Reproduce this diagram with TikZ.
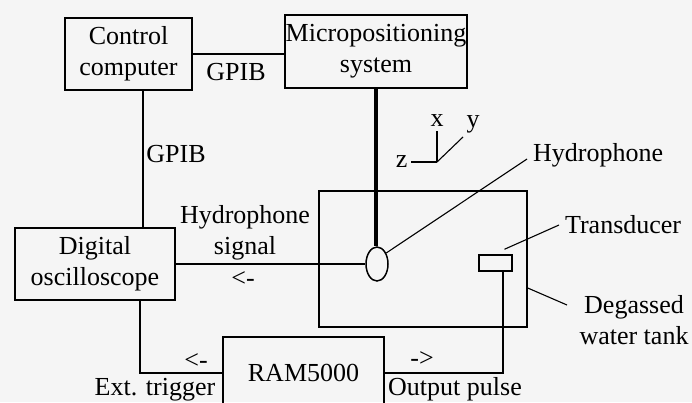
\documentclass[tikz,border=0pt]{standalone}
\usepackage{fontspec}
\setmainfont{Liberation Serif}
\usetikzlibrary{shapes.geometric}
\begin{document}
\begin{tikzpicture}[x=1pt, y=-1pt, line width=1.5pt,
  every node/.style={font=\fontsize{26}{31}\selectfont},
  unit/.style={draw, inner sep=0pt, align=center},
  lead/.style={line width=1.1pt}]
  \fill[black!4] (0,0) rectangle (692,402);
  \useasboundingbox (0,0) rectangle (692,402);
  % boxes
  \node[unit, minimum width=127pt, minimum height=72pt] (ctrl) at (128.5,54) {Control\\computer};
  \node[unit, minimum width=182pt, minimum height=73pt] (micro) at (376,51.5) {Micropositioning\\system};
  \node[unit, minimum width=160pt, minimum height=72pt] (osc) at (95,264) {Digital\\oscilloscope};
  \node[unit, minimum width=161pt, minimum height=72pt] (ram) at (303.5,373) {RAM5000};
  \node[draw, inner sep=0pt, minimum width=208pt, minimum height=136pt] (tank) at (423,259) {};
  \node[draw, ellipse, inner sep=0pt, minimum width=22pt, minimum height=34pt] (hyd) at (377,264) {};
  \node[draw, inner sep=0pt, minimum width=33pt, minimum height=16pt] (trans) at (495.5,263) {};
  % connections
  \draw (ctrl.east) -- (ctrl.east -| micro.west);
  \node (gpib1) at (236,72) {GPIB};
  \draw ([xshift=14.5pt]ctrl.south) -- ([xshift=14.5pt]ctrl.south |- osc.north);
  \node (gpib2) at (176,154) {GPIB};
  \draw[line width=4pt] (micro.south) -- (micro.south |- hyd.north);
  \draw (osc.east) -- (hyd.west);
  \node[align=center] (hsig) at (245,233) {Hydrophone\\signal};
  \node (hsigdir) at (243,279) {<-};
  \draw ([xshift=45pt]osc.south) |- (ram.west);
  \node (trigdir) at (196,361) {<-};
  \node (trig) at (155,390) {Ext. trigger};
  \draw ([xshift=7.5pt]trans.south) |- (ram.east);
  \node (outdir) at (422,359) {->};
  \node (out) at (455,389) {Output pulse};
  % labels
  \node[anchor=west] (hydlbl) at (529,155) {Hydrophone};
  \draw[lead] (hyd.50) -- ([xshift=-2pt,yshift=-4pt]hydlbl.west);
  \node[anchor=west] (translbl) at (561,225) {Transducer};
  \draw[lead] ([shift={(9pt,5pt)}]trans.north) -- ([xshift=-2pt]translbl.west);
  \node[align=center] (degas) at (634,320) {Degassed\\water tank};
  \coordinate (degasend) at (567,305);
  \draw[lead] ([yshift=-29pt]tank.east) -- (degasend);
  % axes
  \coordinate (axo) at (437,162);
  \draw[lead] (axo) -- (437,131) node[above, inner sep=4pt] (xlbl) {x};
  \draw[lead] (axo) -- (411,162) node[left, inner sep=3pt] (zlbl) {z};
  \draw[lead] (axo) -- (463,137) node[above right, inner sep=3pt] (ylbl) {y};
\end{tikzpicture}
\end{document}
